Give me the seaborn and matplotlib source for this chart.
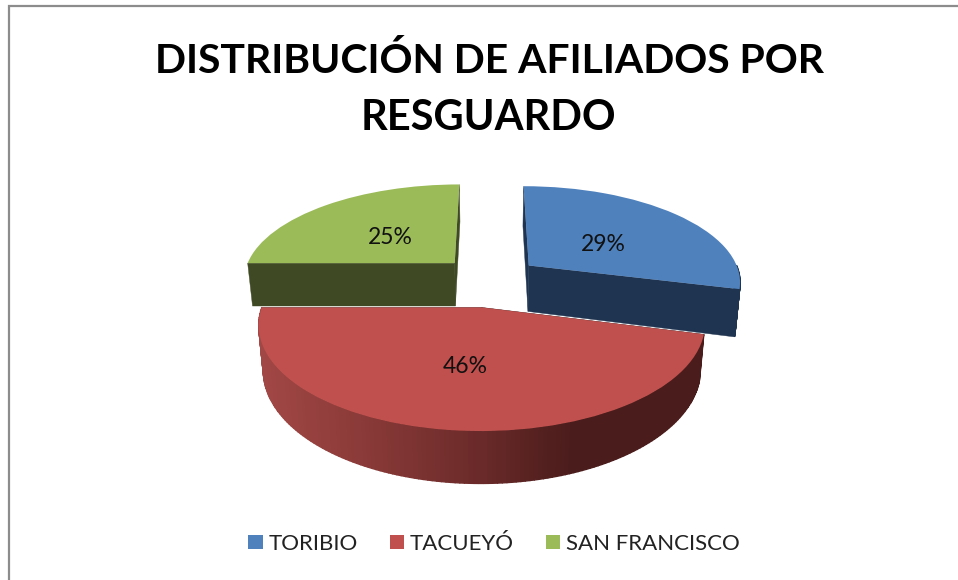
import numpy as np
import seaborn as sns
import matplotlib.pyplot as plt
from matplotlib.path import Path
from matplotlib.transforms import Transform

# values
resguardos = ['TORIBIO', 'TACUEYÓ', 'SAN FRANCISCO']
afiliados_pct = [29, 46, 25]

top_colors = ['#4F81BD', '#C0504D', '#9BBB59']
side_colors = ['#1F3450', '#4A1C1B', '#3F4A24']
explode = [0.23, 0.28, 0.235]
radii = [0.975, 0.965, 0.975]
depths = [47, 42, 44]
label_dist = [0.47, 0.52, 0.46]
label_dy = [5, -2, 3]

# perspective of the pie plane, in pixels of the 958x580 picture
CX, CY = 490, 279
SCALE_X, SCALE_Y = 218, 98
TILT = 0.16
TAPER = 0.02


def project(xy):
    xy = np.asarray(xy, dtype=float)
    w = 1 + TILT * xy[..., 1]
    return np.stack([CX + SCALE_X * xy[..., 0] / w, CY - SCALE_Y * xy[..., 1] / w], axis=-1)


def drop(xy, depth):
    # same plane points, on the underside of the pie
    xy = np.asarray(xy, dtype=float)
    out = project(xy)
    out[..., 1] += depth / (1 + TILT * xy[..., 1])
    out[..., 0] -= (out[..., 0] - CX) * TAPER
    return out


class PieToScreen(Transform):
    input_dims = 2
    output_dims = 2
    is_separable = False

    def transform_non_affine(self, values):
        return project(values)

    def transform_path_non_affine(self, path):
        return Path(project(path.vertices), path.codes)


def rim_point(wedge, deg):
    rad = np.deg2rad(deg)
    return np.array([wedge.center[0] + wedge.r * np.cos(rad), wedge.center[1] + wedge.r * np.sin(rad)])


def draw_radial_face(ax, wedge, deg, color, depth):
    pts = np.array([wedge.center, rim_point(wedge, deg)])
    poly = np.vstack([project(pts), drop(pts, depth)[::-1]])
    ax.fill(poly[:, 0], poly[:, 1], color=color, lw=0.3, zorder=2)


def draw_rim(ax, wedge, color_for_x, depth):
    angles = np.linspace(wedge.theta1, wedge.theta2, 160)
    angles = angles[np.sin(np.deg2rad(angles)) <= 0.001]
    for a, b in zip(angles[:-1], angles[1:]):
        pts = np.array([rim_point(wedge, a), rim_point(wedge, b)])
        poly = np.vstack([project(pts), drop(pts, depth)[::-1]])
        c = color_for_x(poly[:, 0].mean())
        ax.fill(poly[:, 0], poly[:, 1], color=c, lw=1.0, zorder=2)


sns.set_theme(style='white')
plt.rcParams['font.family'] = ['Lato', 'DejaVu Sans']

fig = plt.figure(figsize=(9.58, 5.8), dpi=100)
ax = fig.add_axes([0, 0, 1, 1])

wedges, _, pct_texts = ax.pie(afiliados_pct, colors=top_colors, explode=explode, startangle=90,
                              counterclock=False, autopct='%1.0f%%', labels=None,
                              wedgeprops={'linewidth': 0},
                              textprops={'fontsize': 16.5, 'color': '#111111'})
ax.set_aspect('auto')
ax.set_xlim(0, 958)
ax.set_ylim(580, 0)
ax.axis('off')

plane = PieToScreen() + ax.transData
red_ramp = sns.blend_palette(['#A24846', '#8A3A38', '#6E2C2B', '#4A1C1B'], 64)

for i, w in enumerate(wedges):
    w.set_radius(radii[i])
    if i == 1:
        def ramp(x):
            return red_ramp[int(np.clip((x - 258) / (570 - 258), 0, 1) * 63)]
    else:
        def ramp(x, c=side_colors[i]):
            return c
    draw_radial_face(ax, w, w.theta1, side_colors[i], depths[i])
    draw_radial_face(ax, w, w.theta2, side_colors[i], depths[i])
    draw_rim(ax, w, ramp, depths[i])
    w.set_transform(plane)
    w.set_zorder(3)

for w, t, d, dy in zip(wedges, pct_texts, label_dist, label_dy):
    mid = np.deg2rad((w.theta1 + w.theta2) / 2)
    x, y = project([w.center[0] + d * np.cos(mid), w.center[1] + d * np.sin(mid)])
    t.set_position((x, y + dy))
    t.set_zorder(6)

ax.text(490, 73, 'DISTRIBUCIÓN DE AFILIADOS POR', ha='center', va='baseline', fontsize=29.4,
        fontweight='bold', color='black')
ax.text(488, 130, 'RESGUARDO', ha='center', va='baseline', fontsize=30, fontweight='bold', color='black')

leg = ax.legend(wedges, resguardos, ncol=3, loc='center', bbox_to_anchor=(494 / 958, 1 - 544 / 580),
                frameon=False, fontsize=16, handlelength=0.63, handleheight=0.63,
                columnspacing=1.44, handletextpad=0.27, labelcolor='#222222')

# chart frame: only left and top edges are inside the crop
ax.plot([9, 9, 958], [580, 6, 6], color='#8C8C8C', lw=1.6, zorder=1, solid_joinstyle='miter')

fig.savefig('out.png', dpi=100)
